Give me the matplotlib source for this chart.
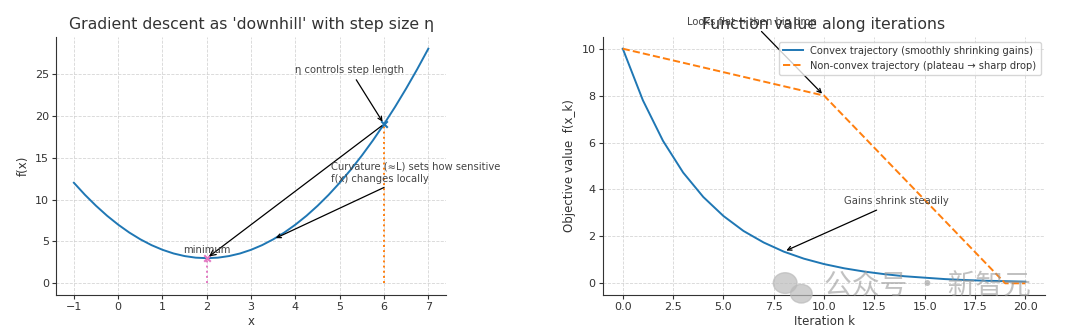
import numpy as np
import matplotlib.pyplot as plt
from matplotlib.patches import Ellipse

# left panel: f(x)
x_vals = [-1.0, -0.75, -0.5, -0.25, 0.0, 0.25, 0.5, 0.75, 1.0, 1.25, 1.5, 1.75,
          2.0, 2.25, 2.5, 2.75, 3.0, 3.25, 3.5, 3.75, 4.0, 4.25, 4.5, 4.75,
          5.0, 5.25, 5.5, 5.75, 6.0, 6.25, 6.5, 6.75, 7.0]
fx_vals = [12.0, 10.56, 9.25, 8.06, 7.0, 6.06, 5.25, 4.56, 4.0, 3.56, 3.25, 3.06,
           3.0, 3.06, 3.25, 3.56, 4.0, 4.56, 5.25, 6.06, 7.0, 8.06, 9.25, 10.56,
           12.0, 13.56, 15.25, 17.06, 19.0, 21.06, 23.25, 25.56, 28.0]
x_min, f_min = 2.0, 3.0
x_start, f_start = 6.0, 19.0
x_curv, f_curv = 3.5, 5.25

# right panel: objective values per iteration
iters = list(range(21))
convex = [10.0, 7.8, 6.07, 4.72, 3.68, 2.87, 2.23, 1.74, 1.35, 1.05, 0.82,
          0.64, 0.50, 0.39, 0.30, 0.24, 0.18, 0.14, 0.11, 0.09, 0.07]
nc_iters = [0, 10, 19, 20]
nonconvex = [10.0, 8.0, 0.0, 0.0]

plt.rcParams['font.family'] = ['DejaVu Sans', 'Noto Sans CJK SC']
text_c = '#333333'
plt.rcParams.update({'text.color': text_c, 'axes.labelcolor': text_c,
                     'xtick.color': text_c, 'ytick.color': text_c,
                     'axes.edgecolor': '#333333'})

fig = plt.figure(figsize=(10.8, 3.33), dpi=100)
ax1 = fig.add_axes([0.052, 0.114, 0.361, 0.775])
ax2 = fig.add_axes([0.558, 0.114, 0.410, 0.775])

for ax in (ax1, ax2):
    ax.spines['top'].set_visible(False)
    ax.spines['right'].set_visible(False)
    ax.grid(True, linestyle='--', color='#cccccc', linewidth=0.6, alpha=0.8)
    ax.tick_params(labelsize=8, length=3, pad=2)

ann = dict(fontsize=7.2, color='#444444')
arrow = dict(arrowstyle='->', color='black', linewidth=0.9)

# ---- left
ax1.plot(x_vals, fx_vals, color='C0', linewidth=1.4)
ax1.plot([x_min, x_min], [0, f_min], linestyle=':', color='C6', linewidth=1.4)
ax1.plot([x_start, x_start], [0, f_start], linestyle=':', color='C1', linewidth=1.4)
ax1.scatter([x_min], [f_min], marker='x', color='C6', s=22, zorder=3)
ax1.scatter([x_start], [f_start], marker='x', color='C0', s=22, zorder=3)
ax1.annotate('', xy=(x_min, f_min), xytext=(x_start, f_start), arrowprops=arrow)
ax1.text(x_min, 3.4, 'minimum', ha='center', va='bottom', **ann)
ax1.annotate('η controls step length', xy=(x_start, f_start), xytext=(4.0, 25.5),
             va='center', arrowprops=arrow, **ann)
ax1.annotate('Curvature (≈L) sets how sensitive\nf(x) changes locally',
             xy=(x_curv, f_curv), xytext=(4.8, 13.2), va='center', ha='left',
             annotation_clip=False, arrowprops=arrow, **ann)
ax1.set_title("Gradient descent as 'downhill' with step size η", fontsize=11.3, color='#333333')
ax1.set_xlabel('x', fontsize=8.5, labelpad=2)
ax1.set_ylabel('f(x)', fontsize=8.5)
ax1.set_xticks(range(-1, 8))
ax1.set_yticks([0, 5, 10, 15, 20, 25])

# ---- right
ax2.plot(iters, convex, color='C0', linewidth=1.4,
         label='Convex trajectory (smoothly shrinking gains)')
ax2.plot(nc_iters, nonconvex, color='C1', linestyle='--', linewidth=1.4,
         label='Non-convex trajectory (plateau → sharp drop)')
ax2.annotate('Looks flat → then big drop', xy=(10, 8), xytext=(3.2, 11.15),
             va='center', annotation_clip=False, arrowprops=arrow, **ann)
ax2.annotate('Gains shrink steadily', xy=(8, 1.35), xytext=(11.0, 3.5),
             va='center', arrowprops=arrow, **ann)
ax2.set_title('Function value along iterations', fontsize=11.3, color='#333333')
ax2.set_xlabel('Iteration k', fontsize=8.5, labelpad=2)
ax2.set_ylabel('Objective value  f(x_k)', fontsize=8.5)
ax2.set_ylim(-0.5, 10.5)
ax2.legend(loc='upper right', fontsize=7.1, framealpha=0.8)

# watermark
fig.patches.append(Ellipse((0.727, 0.150), 0.022, 0.062, transform=fig.transFigure,
                           color='#bbbbbb', alpha=0.7))
fig.patches.append(Ellipse((0.742, 0.118), 0.020, 0.056, transform=fig.transFigure,
                           color='#bbbbbb', alpha=0.7))
fig.text(0.763, 0.138, '公众号 · 新智元', fontsize=20, color='#999999', alpha=0.6,
         va='center', family=['Noto Sans CJK SC', 'DejaVu Sans'])

fig.savefig('out.png', dpi=100)
